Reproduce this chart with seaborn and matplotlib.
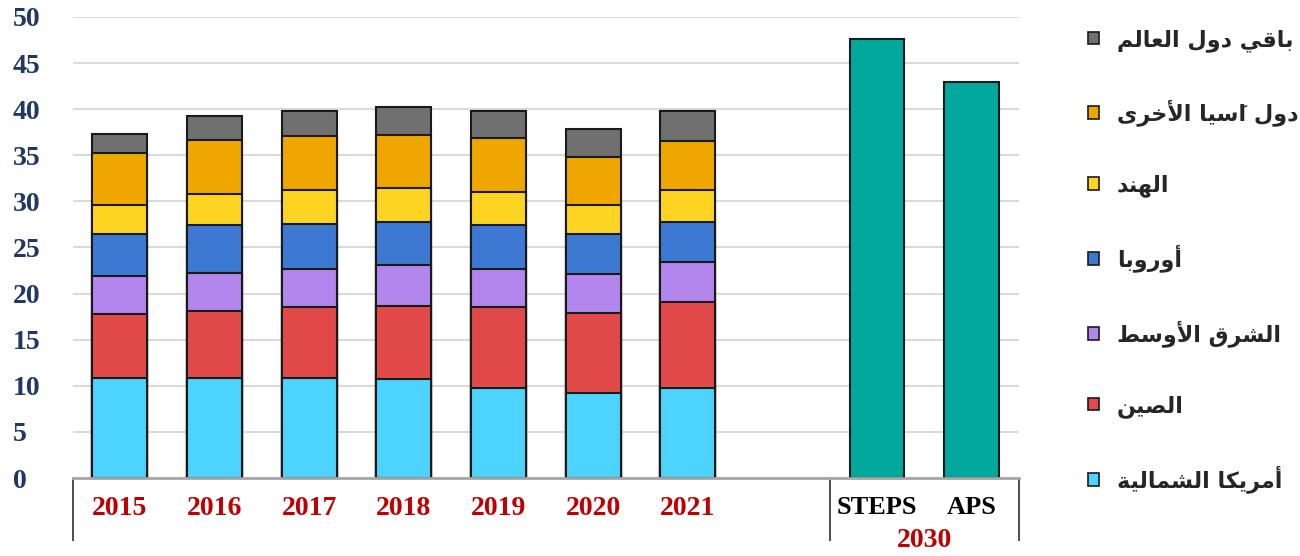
import numpy as np
import pandas as pd
import matplotlib
matplotlib.use("Agg")
import matplotlib.pyplot as plt
import seaborn as sns
from matplotlib.patches import Patch

# ---- data ----
years = ["2015", "2016", "2017", "2018", "2019", "2020", "2021"]
north_america = [10.9, 10.9, 10.9, 10.7, 9.8, 9.2, 9.8]
china = [6.85, 7.2, 7.6, 7.95, 8.7, 8.75, 9.25]
middle_east = [4.15, 4.15, 4.15, 4.4, 4.15, 4.15, 4.35]
europe = [4.55, 5.15, 4.95, 4.75, 4.75, 4.35, 4.4]
india = [3.2, 3.4, 3.6, 3.6, 3.65, 3.2, 3.4]
other_asia = [5.55, 5.9, 5.9, 5.85, 5.85, 5.15, 5.3]
rest_of_world = [2.1, 2.55, 2.7, 2.95, 2.9, 3.05, 3.3]

scenarios = ["STEPS", "APS"]
scenario_values = [47.6, 43.0]
scenario_year = "2030"

region_names = ["أمريكا الشمالية", "الصين", "الشرق الأوسط", "أوروبا",
                "الهند", "دول اَسيا الأخرى", "باقي دول العالم"]
region_colors = ["#4CD4FE", "#E24A4A", "#B386EE", "#3D79D3",
                 "#FDD422", "#EFA700", "#707070"]
scenario_color = "#00A99C"

# ---- tiny arabic shaper (matplotlib does no shaping / bidi) ----
FORMS = {
    "ا": (0xFE8D, 0xFE8E, None, None), "أ": (0xFE83, 0xFE84, None, None),
    "آ": (0xFE81, 0xFE82, None, None), "ب": (0xFE8F, 0xFE90, 0xFE91, 0xFE92),
    "ة": (0xFE93, 0xFE94, None, None), "خ": (0xFEA5, 0xFEA6, 0xFEA7, 0xFEA8),
    "د": (0xFEA9, 0xFEAA, None, None), "ر": (0xFEAD, 0xFEAE, None, None),
    "س": (0xFEB1, 0xFEB2, 0xFEB3, 0xFEB4), "ش": (0xFEB5, 0xFEB6, 0xFEB7, 0xFEB8),
    "ص": (0xFEB9, 0xFEBA, 0xFEBB, 0xFEBC), "ط": (0xFEC1, 0xFEC2, 0xFEC3, 0xFEC4),
    "ع": (0xFEC9, 0xFECA, 0xFECB, 0xFECC), "ق": (0xFED5, 0xFED6, 0xFED7, 0xFED8),
    "ك": (0xFED9, 0xFEDA, 0xFEDB, 0xFEDC), "ل": (0xFEDD, 0xFEDE, 0xFEDF, 0xFEE0),
    "م": (0xFEE1, 0xFEE2, 0xFEE3, 0xFEE4), "ن": (0xFEE5, 0xFEE6, 0xFEE7, 0xFEE8),
    "ه": (0xFEE9, 0xFEEA, 0xFEEB, 0xFEEC), "و": (0xFEED, 0xFEEE, None, None),
    "ى": (0xFEEF, 0xFEF0, None, None), "ي": (0xFEF1, 0xFEF2, 0xFEF3, 0xFEF4),
}
LAM_ALEF = {"ا": (0xFEFB, 0xFEFC), "أ": (0xFEF7, 0xFEF8), "آ": (0xFEF5, 0xFEF6)}
MARKS = "".join(chr(c) for c in range(0x064B, 0x0653))


def shape(text):
    chars = list(text)
    n = len(chars)

    def prev_joins(i):
        j = i - 1
        while j >= 0 and chars[j] in MARKS:
            j -= 1
        return j >= 0 and chars[j] in FORMS and FORMS[chars[j]][2] is not None

    def next_base(i):
        j = i + 1
        while j < n and chars[j] in MARKS:
            j += 1
        return j if j < n else None

    clusters = []
    i = 0
    while i < n:
        c = chars[i]
        if c in MARKS and clusters:
            # mark glyph has no advance and draws to the right, so put it first
            clusters[-1] = c + clusters[-1]
            i += 1
            continue
        if c not in FORMS:
            clusters.append(c)
            i += 1
            continue
        jp = prev_joins(i)
        j = next_base(i)
        if c == "ل" and j is not None and chars[j] in LAM_ALEF:
            iso, fin = LAM_ALEF[chars[j]]
            clusters.append(chr(fin if jp else iso))
            i = j + 1
            continue
        iso, fin, ini, med = FORMS[c]
        jn = ini is not None and j is not None and chars[j] in FORMS
        if jp and jn:
            g = med
        elif jp:
            g = fin
        elif jn:
            g = ini
        else:
            g = iso
        clusters.append(chr(g))
        i += 1
    return "".join(reversed(clusters))


# ---- build table ----
order = years + [" "] + scenarios
stack = np.cumsum(np.array([north_america, china, middle_east, europe,
                            india, other_asia, rest_of_world]), axis=0)

sns.set_style("white")
fig = plt.figure(figsize=(13, 5.56), dpi=100)
ax = fig.add_axes([72.5 / 1300, 78 / 556, (1019 - 72.5) / 1300, (478 - 17) / 556])

# stacked bars: draw cumulative totals from the top layer down
for k in range(len(region_names) - 1, -1, -1):
    df = pd.DataFrame({"label": years, "value": stack[k]})
    sns.barplot(data=df, x="label", y="value", order=order, color=region_colors[k],
                saturation=1, width=0.58, edgecolor="#1a1a1a", linewidth=1.5,
                errorbar=None, ax=ax)

df30 = pd.DataFrame({"label": scenarios, "value": scenario_values})
sns.barplot(data=df30, x="label", y="value", order=order, color=scenario_color,
            saturation=1, width=0.58, edgecolor="#1a1a1a", linewidth=1.5,
            errorbar=None, ax=ax)

ax.set_xlim(-0.5, 9.5)
ax.set_ylim(0, 50)
ax.set_yticks(range(0, 51, 5))
ax.yaxis.grid(True, color="#DADADA", lw=1.5)
ax.set_axisbelow(True)
ax.set_xlabel("")
ax.set_ylabel("")
for s in ["left", "right", "top"]:
    ax.spines[s].set_visible(False)
ax.spines["bottom"].set_color("#A6A6A6")
ax.spines["bottom"].set_linewidth(2)

serif = "Liberation Serif"
ax.tick_params(axis="y", length=0, pad=43)
for lab in ax.get_yticklabels():
    lab.set_ha("left")
    lab.set_fontfamily(serif)
    lab.set_fontweight("bold")
    lab.set_fontsize(20)
    lab.set_color("#1F3864")

ax.tick_params(axis="x", which="major", length=0, pad=13)
for lab in ax.get_xticklabels():
    lab.set_fontfamily(serif)
    lab.set_fontweight("bold")
    lab.set_fontsize(20 if lab.get_text() in years else 19)
    lab.set_color("#C00000" if lab.get_text() in years else "black")

# separators below the axis
ax.set_xticks([-0.5, 7.5, 9.5], minor=True)
ax.tick_params(axis="x", which="minor", bottom=True, length=45, width=1.3,
               color="#404040", direction="out")

ax.text(8.5, -0.135, scenario_year, transform=ax.get_xaxis_transform(), ha="center",
        va="center", fontfamily=serif, fontweight="bold", fontsize=20, color="#C00000")

handles = [Patch(facecolor=c, edgecolor="#1a1a1a", linewidth=1.2) for c in region_colors][::-1]
labels = [shape(t) for t in region_names][::-1]
fig.legend(handles, labels, loc="upper left", bbox_to_anchor=(1088 / 1300, 1 - 29 / 556),
           frameon=False, prop={"family": "DejaVu Sans", "weight": "bold", "size": 16},
           handlelength=0.5, handleheight=0.5, handletextpad=0.8, labelspacing=2.15,
           borderpad=0, borderaxespad=0)

fig.savefig("out.png", dpi=100)
